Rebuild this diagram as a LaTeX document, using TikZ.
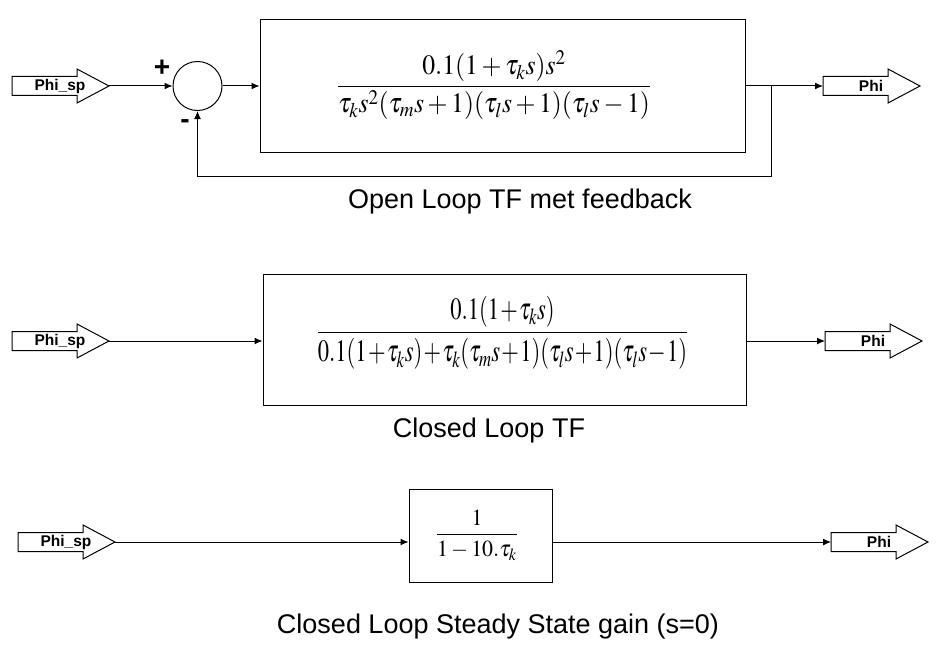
\documentclass[tikz,border=0pt]{standalone}
\usepackage{mathptmx}
\usepackage{graphicx}
\usepackage[no-math]{fontspec}
\setmainfont{Liberation Sans}
\usetikzlibrary{arrows.meta}

\tikzset{
  port/.pic={
    \draw[fill=white] (0,9.5) -- (65,9.5) -- (65,17) -- (97,0) -- (65,-17) -- (65,-9.5) -- (0,-9.5) -- cycle;
    \node[portlbl] (-lbl) at (48,0) {#1};
    \coordinate (-tip) at (97,0);
    \coordinate (-tail) at (0,0);
  },
  portlbl/.style={font=\bfseries\fontsize{15.5}{15.5}\selectfont, inner sep=0pt},
  block/.style={draw, inner sep=0pt},
  tf/.style={inner sep=0pt},
  sig/.style={-{Latex[length=8pt,width=7pt]}},
  caption/.style={font=\fontsize{27}{30}\selectfont, inner sep=0pt},
  sign/.style={font=\bfseries\fontsize{28}{28}\selectfont, inner sep=0pt},
}

\begin{document}
\begin{tikzpicture}[x=1pt, y=1pt, line width=1pt]
  \useasboundingbox (0,0) rectangle (941,-658);

  % open loop with feedback
  \pic (sp1) at (12,-86) {port=Phi\_sp};
  \node[draw, circle, minimum size=49pt, inner sep=0pt] (sum) at (197.5,-86) {};
  \node[sign] (plus) at (162,-68) {+};
  \node[sign] (minus) at (185,-124) {-};
  \node[block, minimum width=485pt, minimum height=132pt] (g1) at (502.5,-86) {};
  \node[tf, font=\fontsize{28}{34}\selectfont] (tf1) at (494,-85)
    {\resizebox{314pt}{\height}{$\displaystyle\frac{0.1(1+\tau_k s)s^2}{\tau_k s^2(\tau_m s+1)(\tau_l s+1)(\tau_l s-1)}$}};
  \pic (phi1) at (823,-86) {port=Phi};
  \coordinate (split) at (771,-86);
  \coordinate (fbr) at (771,-176);
  \draw[sig] (sp1-tip) -- (sum.west);
  \draw[sig] (sum.east) -- (g1.west);
  \draw[sig] (g1.east) -- (phi1-tail);
  \draw[sig] (split) -- (fbr) -| (sum.south);
  \node[caption] (cap1) at (520,-202) {Open Loop TF met feedback};

  % closed loop
  \pic (sp2) at (12,-341) {port=Phi\_sp};
  \node[block, minimum width=483pt, minimum height=131pt] (g2) at (504.5,-339.5) {};
  \node[tf, font=\fontsize{31}{36}\selectfont] (tf2) at (502.5,-333)
    {\resizebox{371pt}{\height}{$\displaystyle\medmuskip=1mu\frac{0.1(1+\tau_k s)}{0.1(1+\tau_k s)+\tau_k(\tau_m s+1)(\tau_l s+1)(\tau_l s-1)}$}};
  \pic (phi2) at (825,-341) {port=Phi};
  \draw[sig] (sp2-tip) -- (sp2-tip -| g2.west);
  \draw[sig] (phi2-tail -| g2.east) -- (phi2-tail);
  \node[caption] (cap2) at (489,-431) {Closed Loop TF};

  % steady state gain
  \pic (sp3) at (18,-542) {port=Phi\_sp};
  \node[block, minimum width=143pt, minimum height=93pt] (g3) at (480.5,-535.5) {};
  \node[tf, font=\fontsize{23}{28}\selectfont] (tf3) at (477,-535)
    {\resizebox{82pt}{\height}{$\displaystyle\frac{1}{1-10.\tau_k}$}};
  \pic (phi3) at (831,-542) {port=Phi};
  \draw[sig] (sp3-tip) -- (sp3-tip -| g3.west);
  \draw[sig] (phi3-tail -| g3.east) -- (phi3-tail);
  \node[caption] (cap3) at (498,-627) {Closed Loop Steady State gain (s=0)};
\end{tikzpicture}
\end{document}
